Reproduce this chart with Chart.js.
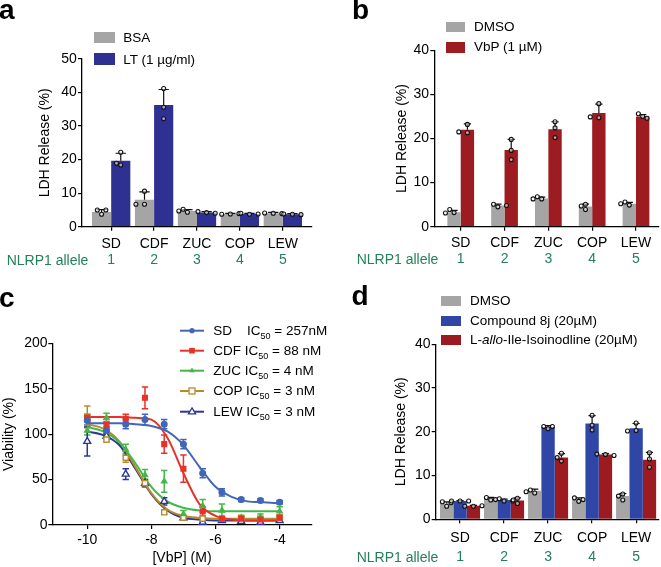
<!DOCTYPE html>
<html><head><meta charset="utf-8">
<script src="https://cdn.jsdelivr.net/npm/chart.js@4.4.1/dist/chart.umd.min.js"></script>
<style>
html,body{margin:0;padding:0;background:#fff;}
body{width:661px;height:567px;position:relative;overflow:hidden;font-family:"Liberation Sans",Arial,sans-serif;}
canvas{position:absolute;}
.t{position:absolute;white-space:nowrap;font-size:13.5px;line-height:16px;color:#000;}
.g{position:absolute;white-space:nowrap;font-size:14px;line-height:16px;color:#23805a;}
.L{position:absolute;font-weight:bold;font-size:28px;line-height:28px;color:#000;}
.box{position:absolute;}
sub{font-size:9px;vertical-align:-4px;line-height:0;}
</style></head>
<body>
<canvas id="ca" width="330" height="280" style="left:0;top:0;width:330px;height:280px"></canvas>
<canvas id="cb" width="331" height="280" style="left:330px;top:0;width:331px;height:280px"></canvas>
<canvas id="cc" width="330" height="287" style="left:0;top:280px;width:330px;height:287px"></canvas>
<canvas id="cd" width="331" height="287" style="left:330px;top:280px;width:331px;height:287px"></canvas>

<div class="L" style="left:-1px;top:-3.7px">a</div>
<div class="L" style="left:352px;top:-3.7px">b</div>
<div class="L" style="left:-1px;top:283.6px">c</div>
<div class="L" style="left:351.5px;top:282.3px">d</div>

<!-- legend a -->
<div class="box" style="left:94px;top:31.7px;width:21px;height:11.7px;background:#a5a5a5"></div>
<div class="t" style="left:123.3px;top:30.4px">BSA</div>
<div class="box" style="left:94px;top:53.3px;width:21px;height:11.7px;background:#2e3192"></div>
<div class="t" style="left:123.3px;top:51.5px">LT (1 µg/ml)</div>
<!-- legend b -->
<div class="box" style="left:446px;top:21.7px;width:19px;height:10.7px;background:#a5a5a5"></div>
<div class="t" style="left:474px;top:18.9px">DMSO</div>
<div class="box" style="left:446px;top:41.7px;width:19px;height:11px;background:#9d1c22"></div>
<div class="t" style="left:474px;top:38.9px">VbP (1 µM)</div>
<!-- legend d -->
<div class="box" style="left:441.3px;top:296px;width:19.3px;height:10px;background:#a5a5a5"></div>
<div class="t" style="left:470px;top:292.9px">DMSO</div>
<div class="box" style="left:441.3px;top:315.5px;width:19.3px;height:10px;background:#2f46a6"></div>
<div class="t" style="left:470px;top:312.9px">Compound 8j (20µM)</div>
<div class="box" style="left:441.3px;top:335px;width:19.3px;height:10px;background:#9b1b20"></div>
<div class="t" style="left:470px;top:332.2px">L-<i>allo</i>-Ile-Isoinodline (20µM)</div>
<!-- legend c -->
<svg style="position:absolute;left:0;top:0" width="661" height="567">
  <g stroke-width="2">
    <line x1="180" y1="330.7" x2="204" y2="330.7" stroke="#4266b8"/>
    <circle cx="192" cy="330.7" r="2.6" fill="#4266b8" stroke="none"/>
    <line x1="180" y1="350.7" x2="204" y2="350.7" stroke="#e63329"/>
    <rect x="189.2" y="347.9" width="5.6" height="5.6" fill="#e63329" stroke="none"/>
    <line x1="180" y1="370.7" x2="204" y2="370.7" stroke="#45b649"/>
    <polygon points="192,367.6 195,372.2 189,372.2" fill="#45b649" stroke="none"/>
    <line x1="180" y1="391" x2="204" y2="391" stroke="#b88a2e"/>
    <rect x="189" y="388" width="6" height="6" fill="#fff" stroke="#b88a2e" stroke-width="1.3"/>
    <line x1="180" y1="411.7" x2="204" y2="411.7" stroke="#2d3794"/>
    <polygon points="192,407.9 195.6,413.8 188.4,413.8" fill="#fff" stroke="#2d3794" stroke-width="1.3"/>
  </g>
</svg>
<div class="t" style="left:213.3px;top:322.9px">SD&nbsp;&nbsp;&nbsp;&nbsp;IC<sub>50</sub> = 257nM</div>
<div class="t" style="left:213.3px;top:342.9px">CDF IC<sub>50</sub> = 88 nM</div>
<div class="t" style="left:213.3px;top:362.9px">ZUC IC<sub>50</sub> = 4 nM</div>
<div class="t" style="left:213.3px;top:383.2px">COP IC<sub>50</sub> = 3 nM</div>
<div class="t" style="left:213.3px;top:403.9px">LEW IC<sub>50</sub> = 3 nM</div>

<div class="g" style="left:6.7px;top:251.9px">NLRP1 allele</div>
<div class="g" style="left:356.7px;top:250.9px">NLRP1 allele</div>
<div class="g" style="left:356.7px;top:548.9px">NLRP1 allele</div>

<script>
const FONT = "'Liberation Sans', Arial, sans-serif";
const GREEN = '#23805a';

const categories = ['SD', 'CDF', 'ZUC', 'COP', 'LEW'];
const alleles = ['1', '2', '3', '4', '5'];

// ---- panel a ----
const aTicks = [0, 10, 20, 30, 40, 50];
const aBSA = [4.4, 8.0, 4.7, 3.8, 4.0];
const aBSAerr = [0.7, 2.4, 0.4, 0.2, 0.3];
const aBSAreps = [[3.7, 5.0, 5.0], [10.6, 6.7, 6.7], [4.3, 5.2, 4.7], [3.8, 3.7, 3.9], [4.0, 4.1, 3.9]];
const aLT = [19.7, 36.3, 4.2, 3.8, 3.7];
const aLTerr = [2.2, 4.6, 0.3, 0.2, 0.2];
const aLTreps = [[22.2, 18.4, 18.9], [41.2, 35.6, 32.2], [4.2, 4.5, 4.0], [3.7, 4.0, 3.8], [3.7, 3.8, 3.6]];

// ---- panel b ----
const bTicks = [0, 10, 20, 30, 40];
const bDMSO = [3.3, 4.8, 6.4, 4.6, 5.2];
const bDMSOerr = [0.4, 0.3, 0.3, 0.5, 0.3];
const bDMSOreps = [[3.2, 3.9, 3.1], [4.5, 5.1, 4.8], [6.3, 6.8, 6.3], [3.9, 5.1, 4.7], [4.9, 5.6, 5.2]];
const bVbP = [22.0, 17.4, 22.1, 25.8, 25.0];
const bVbPerr = [1.3, 2.4, 1.7, 2.0, 0.4];
const bVbPreps = [[23.2, 21.3, 21.5], [19.8, 17.3, 15.2], [23.8, 20.2, 22.4], [27.9, 24.7, 24.9], [25.0, 25.6, 24.6]];

// ---- panel d ----
const dTicks = [0, 10, 20, 30, 40];
const dDMSO = [3.6, 4.7, 6.5, 4.5, 5.3];
const dDMSOerr = [0.4, 0.3, 0.4, 0.4, 0.6];
const dDMSOreps = [[3.0, 4.0, 3.8], [4.4, 5.0, 4.7], [6.0, 6.7, 6.3], [4.1, 4.9, 4.5], [4.4, 5.8, 5.3]];
const d8j = [4.2, 4.4, 21.1, 21.9, 20.8];
const d8jerr = [0.1, 0.2, 0.3, 1.8, 1.1];
const d8jreps = [[4.2, 4.2, 4.2], [4.2, 4.5, 4.2], [20.7, 21.2, 21.2], [23.8, 21.5, 20.4], [22.0, 20.3, 20.2]];
const dIso = [3.1, 4.3, 14.1, 14.8, 13.6];
const dIsoerr = [0.1, 0.6, 0.9, 0.2, 1.7];
const dIsoreps = [[3.0, 3.0, 3.1], [3.6, 4.8, 4.4], [15.1, 13.3, 14.1], [14.8, 14.9, 14.6], [15.2, 13.8, 11.9]];

// ---- panel c ----
const cTicksX = [-10, -8, -6, -4];
const cTicksY = [0, 50, 100, 150, 200];
const cX = [-10, -9.4, -8.8, -8.2, -7.6, -7.0, -6.4, -5.8, -5.2, -4.6, -4.0];
const cSD = [115, 104, 111, 116, 111, 89, 57, 36, 28, 27, 25];
const cSDerr = [5, 4, 5, 6, 5, 5, 5, 4, 2, 2, 2];
const cCDF = [118, 110, 117, 140, 89, 62, 15, 7, 7, 6, 8];
const cCDFerr = [4, 4, 5, 12, 10, 15, 5, 2, 2, 2, 3];
const cZUC = [104, 118, 83, 55, 48, 12, 21, 16, 8, 9, 15];
const cZUCerr = [5, 5, 6, 6, 12, 4, 7, 7, 2, 3, 5];
const cCOP = [119, 94, 74, 46, 14, 8, 7, 7, 8, 7, 8];
const cCOPerr = [12, 3, 5, 4, 2, 1, 1, 1, 1, 1, 2];
const cLEW = [92, 98, 56, 46, 26, 8, 3, 5, 4, 3, 5];
const cLEWerr = [16, 3, 6, 4, 4, 1, 1, 1, 1, 1, 1];
// fitted curves
const cFitX = [-10, -9.5, -9, -8.5, -8, -7.5, -7, -6.5, -6, -5.5, -5, -4.5, -4];
const cSDfit = [112, 112, 112, 111, 109, 103, 88, 64, 42, 31, 26, 25, 24];
const cCDFfit = [119, 119, 119, 118, 116, 96, 57, 23, 10, 6, 5, 5, 5];
const cZUCfit = [108, 103, 91, 68, 42, 26, 19, 16, 15, 15, 15, 15, 15];
const cCOPfit = [111, 106, 92, 64, 35, 17, 10, 8, 7, 7, 7, 7, 7];
const cLEWfit = [103, 99, 88, 62, 34, 16, 8, 6, 5, 5, 5, 5, 5];

const barExtras = {
  id: 'barExtras',
  afterDatasetsDraw(chart) {
    const ctx = chart.ctx, ys = chart.scales.y;
    chart.data.datasets.forEach((ds, di) => {
      const meta = chart.getDatasetMeta(di);
      meta.data.forEach((bar, j) => {
        const x = bar.x, w = bar.width;
        const yTop = ys.getPixelForValue(ds.means[j] + ds.errs[j]);
        ctx.save();
        ctx.strokeStyle = '#111';
        ctx.lineWidth = 1.2;
        ctx.beginPath();
        ctx.moveTo(x, bar.y); ctx.lineTo(x, yTop);
        ctx.moveTo(x - w * 0.27, yTop); ctx.lineTo(x + w * 0.27, yTop);
        ctx.stroke();
        const placed = [];
        const d = 4.3;
        ds.reps[j].forEach(v => {
          const py = ys.getPixelForValue(v);
          const cands = [0, -d, d, -2 * d, 2 * d];
          let ox = 0;
          for (const c of cands) {
            if (placed.every(p => Math.hypot(p[0] - c, p[1] - py) >= 4.6)) { ox = c; break; }
          }
          placed.push([ox, py]);
        });
        ctx.lineWidth = 1.1;
        placed.forEach(p => {
          ctx.beginPath();
          ctx.arc(x + p[0], p[1], 2, 0, Math.PI * 2);
          ctx.fillStyle = 'rgba(255,255,255,0.55)';
          ctx.fill();
          ctx.stroke();
        });
        ctx.restore();
      });
    });
  }
};

function barPanel(id, o) {
  const datasets = o.series.map(s => ({
    data: s.vals.map((v, i) => ({ x: i, y: v })),
    backgroundColor: s.color,
    borderWidth: 0,
    barPercentage: 1,
    categoryPercentage: o.catPct,
    means: s.vals, errs: s.errs, reps: s.reps,
    xAxisID: 'x', yAxisID: 'y'
  }));
  const tickFont = { size: 14, family: FONT };
  new Chart(document.getElementById(id), {
    type: 'bar',
    data: { datasets },
    options: {
      responsive: false, animation: false, events: [],
      layout: { padding: { top: o.top, left: 0, right: o.right, bottom: o.bottom } },
      plugins: { legend: { display: false }, tooltip: { enabled: false } },
      scales: {
        x: {
          type: 'linear', position: 'bottom', min: o.xmin, max: o.xmax, offset: false,
          afterBuildTicks: s => { s.ticks = categories.map((c, i) => ({ value: i })); },
          afterFit: s => { s.height = o.h1; },
          grid: { display: true, offset: false, drawOnChartArea: false, drawTicks: true, tickLength: 4, color: '#000', lineWidth: 1.2 },
          border: { display: true, color: '#000', width: 1.3 },
          ticks: { callback: v => categories[v], padding: o.p1, color: '#000', font: tickFont, maxRotation: 0, autoSkip: false }
        },
        x2: {
          type: 'linear', position: 'bottom', min: o.xmin, max: o.xmax, offset: false,
          afterBuildTicks: s => { s.ticks = alleles.map((c, i) => ({ value: i })); },
          afterFit: s => { s.height = o.h2; },
          grid: { display: false, drawTicks: false },
          border: { display: false },
          ticks: { callback: v => alleles[v], padding: o.p2, color: GREEN, font: tickFont, maxRotation: 0, autoSkip: false }
        },
        y: {
          type: 'linear', min: 0, max: o.ymax,
          afterBuildTicks: s => { s.ticks = o.yticks.map(v => ({ value: v })); },
          afterFit: s => { s.width = o.yw; },
          grid: { drawOnChartArea: false, tickLength: 4, color: '#000', lineWidth: 1.2 },
          border: { color: '#000', width: 1.3 },
          ticks: { padding: 1.2, color: '#000', font: tickFont },
          title: { display: true, text: 'LDH Release (%)', color: '#000', font: tickFont, padding: { top: o.tp, bottom: 0 } }
        }
      }
    },
    plugins: [barExtras]
  });
}

barPanel('ca', {
  top: 59, right: 18, bottom: 7.3, yw: 82, tp: 36.6,
  h1: 24, p1: 5.2, h2: 22, p2: 0.6,
  xmin: -0.68, xmax: 4.68, ymax: 50, yticks: aTicks, catPct: 0.893,
  series: [
    { vals: aBSA, errs: aBSAerr, reps: aBSAreps, color: '#a5a5a5' },
    { vals: aLT, errs: aLTerr, reps: aLTreps, color: '#2e3192' }
  ]
});
barPanel('cb', {
  top: 50.3, right: 2, bottom: 7.3, yw: 104.3, tp: 63.3,
  h1: 23, p1: 3.8, h2: 23, p2: 0.6,
  xmin: -0.603, xmax: 4.525, ymax: 40, yticks: bTicks, catPct: 0.61,
  series: [
    { vals: bDMSO, errs: bDMSOerr, reps: bDMSOreps, color: '#a5a5a5' },
    { vals: bVbP, errs: bVbPerr, reps: bVbPreps, color: '#9d1c22' }
  ]
});
barPanel('cd', {
  top: 64.3, right: 2, bottom: 1.7, yw: 105.7, tp: 62.6,
  h1: 24, p1: 6.2, h2: 22, p2: 5.0,
  xmin: -0.553, xmax: 4.52, ymax: 40, yticks: dTicks, catPct: 0.91,
  series: [
    { vals: dDMSO, errs: dDMSOerr, reps: dDMSOreps, color: '#a5a5a5' },
    { vals: d8j, errs: d8jerr, reps: d8jreps, color: '#2f46a6' },
    { vals: dIso, errs: dIsoerr, reps: dIsoreps, color: '#9b1b20' }
  ]
});

// ---- panel c chart ----
const cSeries = [
  { mean: cSD, err: cSDerr, fit: cSDfit, color: '#4266b8', style: 'circle', r: 2.8, fill: true },
  { mean: cCDF, err: cCDFerr, fit: cCDFfit, color: '#e63329', style: 'rect', r: 3.3, fill: true },
  { mean: cZUC, err: cZUCerr, fit: cZUCfit, color: '#45b649', style: 'triangle', r: 3, fill: true },
  { mean: cCOP, err: cCOPerr, fit: cCOPfit, color: '#b88a2e', style: 'rect', r: 3.6, fill: false },
  { mean: cLEW, err: cLEWerr, fit: cLEWfit, color: '#2d3794', style: 'triangle', r: 4, fill: false }
];
const cPointSets = cSeries.map(s => ({
  data: cX.map((x, i) => ({ x, y: s.mean[i] })),
  showLine: false, pointStyle: s.style, pointRadius: s.r,
  backgroundColor: s.fill ? s.color : '#fff', borderColor: s.color, borderWidth: 1.4,
  errs: s.err, errColor: s.color
}));
const cCurveSets = cSeries.map(s => ({
  data: cFitX.map((x, i) => ({ x, y: s.fit[i] })),
  showLine: true, pointRadius: 0, borderColor: s.color, borderWidth: 2,
  cubicInterpolationMode: 'monotone', fill: false
}));
const cErrPlugin = {
  id: 'cErr',
  beforeDatasetsDraw(chart) {
    const ctx = chart.ctx, xs = chart.scales.x, ys = chart.scales.y;
    chart.data.datasets.forEach(ds => {
      if (!ds.errs) return;
      ctx.save();
      ctx.strokeStyle = ds.errColor; ctx.lineWidth = 1.5;
      ds.data.forEach((p, i) => {
        const x = xs.getPixelForValue(p.x);
        const y1 = ys.getPixelForValue(Math.max(0, p.y - ds.errs[i]));
        const y2 = ys.getPixelForValue(p.y + ds.errs[i]);
        ctx.beginPath();
        ctx.moveTo(x, y1); ctx.lineTo(x, y2);
        ctx.moveTo(x - 3.2, y1); ctx.lineTo(x + 3.2, y1);
        ctx.moveTo(x - 3.2, y2); ctx.lineTo(x + 3.2, y2);
        ctx.stroke();
      });
      ctx.restore();
    });
  }
};
new Chart(document.getElementById('cc'), {
  type: 'scatter',
  data: { datasets: [...cPointSets, ...cCurveSets] },
  options: {
    responsive: false, animation: false, events: [],
    layout: { padding: { top: 63.3, left: 0, right: 18.3, bottom: 0 } },
    plugins: { legend: { display: false }, tooltip: { enabled: false } },
    scales: {
      x: {
        type: 'linear', min: -11.09, max: -3.0,
        afterBuildTicks: s => { s.ticks = cTicksX.map(v => ({ value: v })); },
        afterFit: s => { s.height = 42; },
        grid: { drawOnChartArea: false, tickLength: 4, color: '#000', lineWidth: 1.2 },
        border: { color: '#000', width: 1.3 },
        ticks: { padding: 2.4, color: '#000', font: { size: 14, family: FONT } },
        title: { display: true, text: '[VbP] (M)', color: '#000', font: { size: 14, family: FONT }, padding: { top: 0, bottom: 0 } }
      },
      y: {
        type: 'linear', min: 0, max: 200,
        afterBuildTicks: s => { s.ticks = cTicksY.map(v => ({ value: v })); },
        afterFit: s => { s.width = 52.3; },
        grid: { drawOnChartArea: false, tickLength: 4, color: '#000', lineWidth: 1.2 },
        border: { color: '#000', width: 1.3 },
        ticks: { padding: 0.8, color: '#000', font: { size: 14, family: FONT } },
        title: { display: true, text: 'Viability (%)', color: '#000', font: { size: 14, family: FONT }, padding: { top: 0.9, bottom: 0 } }
      }
    }
  },
  plugins: [cErrPlugin]
});
</script>
</body></html>
